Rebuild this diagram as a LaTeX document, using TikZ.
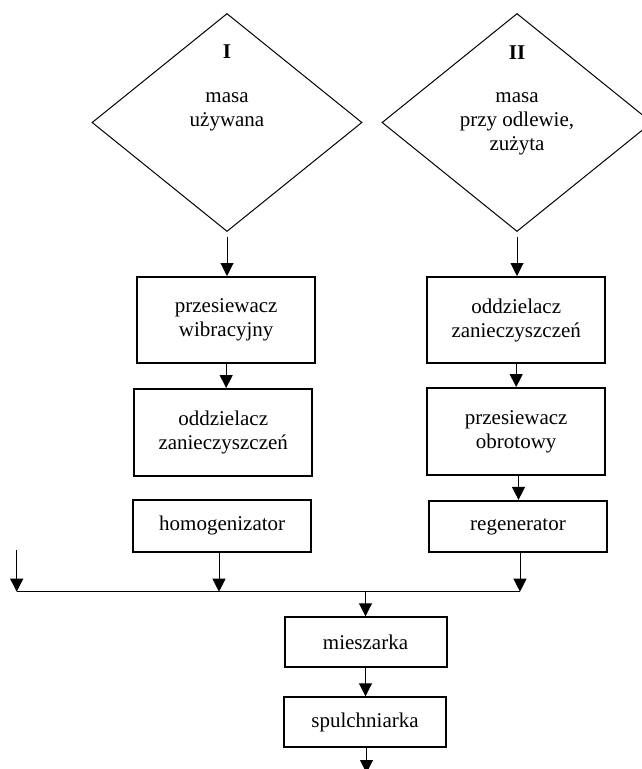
\documentclass[tikz,border=0pt]{standalone}
\usepackage{fontspec}
\setmainfont{Liberation Serif}
\usetikzlibrary{shapes.geometric,arrows.meta}
\tikzset{
  txt/.style={align=center, inner sep=0pt, font=\fontsize{21pt}{24pt}\selectfont},
  box/.style={txt, draw, line width=2pt, minimum width=178pt},
  dia/.style={draw, diamond, line width=1pt, minimum width=270pt, minimum height=218pt, inner sep=0pt},
  flow/.style={line width=1pt, -{Triangle[length=13pt,width=13pt]}},
  plain/.style={line width=1pt}
}
\begin{document}
\begin{tikzpicture}[x=1pt,y=-1pt]
\useasboundingbox (0,0) rectangle (642,769);
\clip (0,0) rectangle (642,769);
% diamonds
\node[dia] (d1) at (227,122.5) {};
\node[dia] (d2) at (517,122.5) {};
\node[txt, font=\fontsize{21pt}{24pt}\selectfont\bfseries] (t1) at (227,52) {I};
\node[txt] (m1) at (227,111.5) {masa\\używana};
\node[txt, font=\fontsize{21pt}{24pt}\selectfont\bfseries] (t2) at (517,53) {II};
\node[txt] (m2) at (517,124) {masa\\przy odlewie,\\zużyta};
% left column
\node[box, minimum height=86pt] (l1) at (226.2,320) {przesiewacz\\wibracyjny};
\node[box, minimum height=87pt] (l2) at (223.2,432.5) {oddzielacz\\zanieczyszczeń};
\node[box, minimum height=52pt] (l3) at (222.2,525.5) {homogenizator};
% right column
\node[box, minimum height=86pt] (r1) at (516.2,320) {oddzielacz\\zanieczyszczeń};
\node[box, minimum height=87pt] (r2) at (516.2,431.5) {przesiewacz\\obrotowy};
\node[box, minimum height=51pt] (r3) at (518,526.4) {regenerator};
% bottom
\node[box, minimum width=162pt, minimum height=50pt] (mx) at (365.5,642.3) {mieszarka};
\node[box, minimum width=162pt, minimum height=50pt] (sp) at (365,722.3) {spulchniarka};
% bus
\coordinate (busL) at (16.7,591.7);
\coordinate (busR) at (520,591.7);
\coordinate (inL) at (16.7,550);
\coordinate (out) at (366.5,773);
% connectors
\draw[flow, shorten <=5pt] (d1.south) -- (d1.south |- l1.north);
\draw[flow, shorten <=5pt] (d2.south) -- (d2.south |- r1.north);
\draw[flow] (l1.south) -- (l1.south |- l2.north);
\draw[flow] (r1.south) -- (r1.south |- r2.north);
\draw[flow] ([xshift=2.3pt]r2.south) -- ([xshift=2.3pt]r2.south |- r3.north);
\draw[plain] (busL) -- (busR);
\draw[flow] (inL) -- (busL);
\draw[flow] ([xshift=-3.2pt]l3.south) -- ([xshift=-3.2pt]l3.south |- busL);
\draw[flow] ([xshift=2pt]r3.south) -- (busR);
\draw[flow] (busL -| mx.north) -- (mx.north);
\draw[flow] (mx.south) -- (mx.south |- sp.north);
\draw[flow] ([xshift=1.5pt]sp.south) -- (out);
\end{tikzpicture}
\end{document}
